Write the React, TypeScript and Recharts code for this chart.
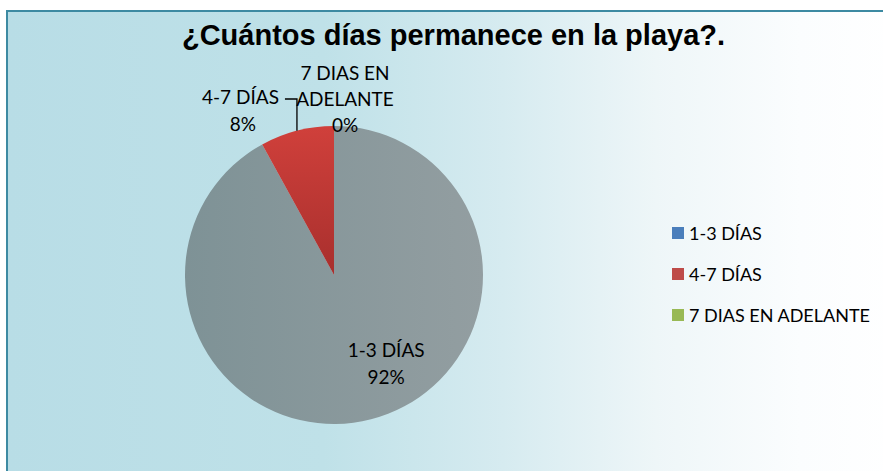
import React from "react";
import { PieChart, Pie, Cell, Legend } from "recharts";

const categories = ["1-3 DÍAS", "4-7 DÍAS", "7 DIAS EN ADELANTE"];
const values = [92, 8, 0];
const percentLabels = ["92%", "8%", "0%"];
const sliceColors = ["url(#graySlice)", "url(#redSlice)", "#98b954"];
const legendColors = ["#4a7ebb", "#be4b48", "#98b954"];
const title = "¿Cuántos días permanece en la playa?.";

const data = categories.map((name, i) => ({ name, value: values[i], pct: percentLabels[i] }));

const LABEL_FONT = "Lato, 'Open Sans', sans-serif";
const RAD = Math.PI / 180;

const renderLabel = (props: any) => {
  const { cx, cy, midAngle, outerRadius, index } = props;
  const r = outerRadius;
  const common = { fontFamily: LABEL_FONT, fontSize: 19, fill: "#000" } as const;
  if (index === 0) {
    const x = cx + r * 0.35;
    const y = cy + r * 0.5;
    return (
      <g>
        <text x={x} y={y} textAnchor="middle" dominantBaseline="central" {...common}>{categories[0]}</text>
        <text x={x} y={y + 27} textAnchor="middle" dominantBaseline="central" {...common}>{percentLabels[0]}</text>
      </g>
    );
  }
  if (index === 1) {
    const px = cx + r * Math.cos(-midAngle * RAD);
    const py = cy + r * Math.sin(-midAngle * RAD);
    const topY = cy - r - 27;
    const endX = px - 12;
    return (
      <g>
        <polyline points={`${px},${py} ${px},${topY} ${endX},${topY}`} fill="none" stroke="#000" strokeWidth={1.3} />
        <text x={endX - 6} y={topY - 3} textAnchor="end" dominantBaseline="central" {...common}>{categories[1]}</text>
        <text x={endX - 42} y={topY + 24} textAnchor="middle" dominantBaseline="central" {...common}>{percentLabels[1]}</text>
      </g>
    );
  }
  const x = cx + 11;
  const y0 = cy - r - 54;
  return (
    <g>
      <text x={x} y={y0} textAnchor="middle" dominantBaseline="central" {...common}>7 DIAS EN</text>
      <text x={x} y={y0 + 26} textAnchor="middle" dominantBaseline="central" {...common}>ADELANTE</text>
      <text x={x} y={y0 + 52} textAnchor="middle" dominantBaseline="central" {...common}>{percentLabels[2]}</text>
    </g>
  );
};

const LegendContent = () => (
  <div style={{ fontFamily: LABEL_FONT, fontSize: 18, color: "#000" }}>
    {categories.map((c, i) => (
      <div key={c} style={{ display: "flex", alignItems: "center", height: 41 }}>
        <span style={{ display: "inline-block", flexShrink: 0, width: 12, height: 12, background: legendColors[i], marginRight: 5 }} />
        <span style={{ whiteSpace: "nowrap" }}>{c}</span>
      </div>
    ))}
  </div>
);

export default function App() {
  return (
    <div style={{ position: "absolute", left: 0, top: 0, width: 883, height: 471, background: "#fff", overflow: "hidden" }}>
      <div
        style={{
          position: "absolute",
          left: 6,
          top: 10,
          width: 900,
          height: 500,
          border: "2px solid #3d8aa2",
          background:
            "linear-gradient(to right, #b8dde6 0%, #bfe1e8 35%, #d6ebf0 55%, #eef6f8 72%, #fbfdfe 88%, #ffffff 100%)",
        }}
      />
      <div
        style={{
          position: "absolute",
          left: 0,
          top: 17,
          width: 907,
          textAlign: "center",
          fontFamily: "'Liberation Sans', Arial, sans-serif",
          fontWeight: "bold",
          fontSize: 29,
          lineHeight: "36px",
          color: "#000",
        }}
      >
        {title}
      </div>
      <div style={{ position: "absolute", left: 0, top: 0 }}>
        <PieChart width={883} height={471} margin={{ top: 0, right: 0, bottom: 0, left: 0 }}>
          <defs>
            <linearGradient id="graySlice" x1="0" y1="0" x2="1" y2="0">
              <stop offset="0%" stopColor="#7e9296" />
              <stop offset="100%" stopColor="#939ea1" />
            </linearGradient>
            <linearGradient id="redSlice" x1="0" y1="0" x2="0" y2="1">
              <stop offset="0%" stopColor="#d0403b" />
              <stop offset="100%" stopColor="#a82f2d" />
            </linearGradient>
          </defs>
          <Pie
            data={data}
            dataKey="value"
            nameKey="name"
            cx={334}
            cy={275}
            outerRadius={149}
            startAngle={90}
            endAngle={-270}
            stroke="none"
            label={renderLabel}
            labelLine={false}
            isAnimationActive={false}
          >
            {data.map((d, i) => (
              <Cell key={d.name} fill={sliceColors[i]} stroke="none" />
            ))}
          </Pie>
          <Legend
            layout="vertical"
            align="right"
            verticalAlign="middle"
            content={LegendContent}
            wrapperStyle={{ left: 672, top: 212, width: 210 }}
          />
        </PieChart>
      </div>
    </div>
  );
}
